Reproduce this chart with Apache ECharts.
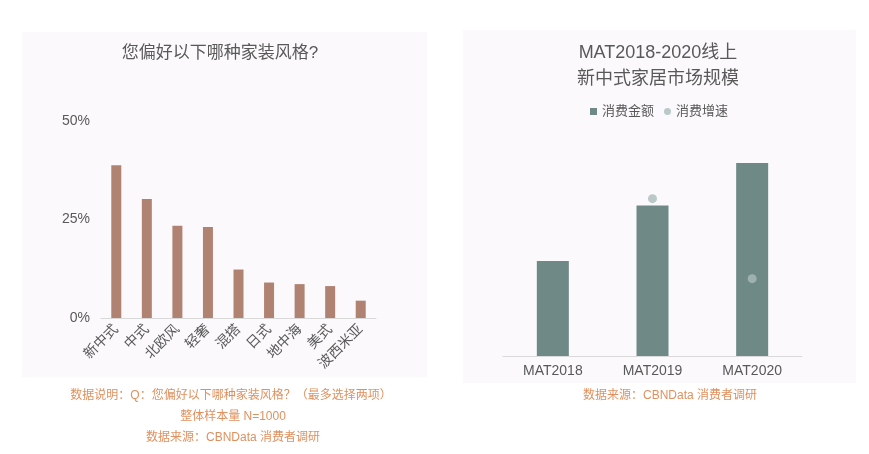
<!DOCTYPE html>
<html>
<head>
<meta charset="utf-8">
<script src="https://cdn.jsdelivr.net/npm/echarts@6/dist/echarts.min.js"></script>
<style>
  html, body { margin: 0; padding: 0; background: #fff; }
  #chart { width: 869px; height: 454px; }
</style>
</head>
<body>
<div id="chart"></div>
<script>
// 左图：家装风格偏好
var styleNames = ['新中式', '中式', '北欧风', '轻奢', '混搭', '日式', '地中海', '美式', '波西米亚'];
var styleShare = [38.8, 30.2, 23.4, 23.1, 12.3, 9.0, 8.6, 8.1, 4.4];
var shareTicks = [0, 25, 50];

// 右图：新中式家居市场规模（无刻度，按相对高度估读）
var matYears = ['MAT2018', 'MAT2019', 'MAT2020'];
var spendAmount = [47.5, 75.3, 96.5];
var spendGrowth = [null, 59, 29];

var font = '"Liberation Sans", "Noto Sans CJK SC", sans-serif';
var gray = '#595959';
var noteColor = '#e0905f';

var chart = echarts.init(document.getElementById('chart'));

var option = {
    backgroundColor: '#fff',
    textStyle: { fontFamily: font },
    graphic: [
        { type: 'rect', z: -10, shape: { x: 22, y: 32, width: 405, height: 345 }, style: { fill: '#fbf9fc' } },
        { type: 'rect', z: -10, shape: { x: 463, y: 30, width: 393, height: 353 }, style: { fill: '#fbf9fc' } },
        { type: 'text', x: 231, y: 390, style: { text: '数据说明：Q：您偏好以下哪种家装风格？（最多选择两项）', fill: noteColor, font: '12px ' + font, align: 'center' } },
        { type: 'text', x: 233, y: 411, style: { text: '整体样本量 N=1000', fill: noteColor, font: '12px ' + font, align: 'center' } },
        { type: 'text', x: 233, y: 432, style: { text: '数据来源：CBNData 消费者调研', fill: noteColor, font: '12px ' + font, align: 'center' } },
        { type: 'text', x: 670, y: 390, style: { text: '数据来源：CBNData 消费者调研', fill: noteColor, font: '12px ' + font, align: 'center' } }
    ],
    title: [
        {
            text: '您偏好以下哪种家装风格?',
            left: 215, top: 40, textAlign: 'center',
            textStyle: { color: gray, fontSize: 17, fontWeight: 'normal', fontFamily: font }
        },
        {
            text: 'MAT2018-2020线上\n新中式家居市场规模',
            left: 653, top: 35, textAlign: 'center',
            textStyle: { color: gray, fontSize: 18, fontWeight: 'normal', fontFamily: font, lineHeight: 26 }
        }
    ],
    legend: {
        left: 585, top: 100,
        itemWidth: 7, itemHeight: 7, itemGap: 10,
        textStyle: { color: gray, fontSize: 13, fontFamily: font },
        data: [
            { name: '消费金额', icon: 'rect' },
            { name: '消费增速', icon: 'circle' }
        ]
    },
    grid: [
        { left: 101, right: 493, top: 121, bottom: 136 },
        { left: 503, right: 67, top: 156, bottom: 98 }
    ],
    xAxis: [
        {
            type: 'category', gridIndex: 0, data: styleNames,
            axisLine: { lineStyle: { color: '#d9d9d9' } },
            axisTick: { show: false },
            axisLabel: { rotate: 45, color: gray, fontSize: 14, margin: 9, fontFamily: font }
        },
        {
            type: 'category', gridIndex: 1, data: matYears,
            axisLine: { lineStyle: { color: '#d9d9d9' } },
            axisTick: { show: false },
            axisLabel: { color: gray, fontSize: 14, margin: 8, fontFamily: font }
        }
    ],
    yAxis: [
        {
            type: 'value', gridIndex: 0, min: shareTicks[0], max: shareTicks[shareTicks.length - 1], interval: 25,
            splitLine: { show: false },
            axisLine: { show: false },
            axisTick: { show: false },
            axisLabel: { color: gray, fontSize: 14, margin: 11, formatter: '{value}%', fontFamily: font }
        },
        {
            type: 'value', gridIndex: 1, min: 0, max: 100, show: false,
            splitLine: { show: false }
        },
        {
            type: 'value', gridIndex: 1, min: 0, max: 75, show: false,
            splitLine: { show: false }
        }
    ],
    series: [
        {
            name: '偏好占比', type: 'bar', xAxisIndex: 0, yAxisIndex: 0,
            data: styleShare, barWidth: 10,
            itemStyle: { color: '#b08272' }
        },
        {
            name: '消费金额', type: 'bar', xAxisIndex: 1, yAxisIndex: 1,
            data: spendAmount, barWidth: 32,
            itemStyle: { color: '#6e8986' }
        },
        {
            name: '消费增速', type: 'scatter', xAxisIndex: 1, yAxisIndex: 2,
            data: spendGrowth, symbolSize: 9,
            itemStyle: { color: '#a9bdba' }
        }
    ]
};

chart.setOption(option);
</script>
</body>
</html>
